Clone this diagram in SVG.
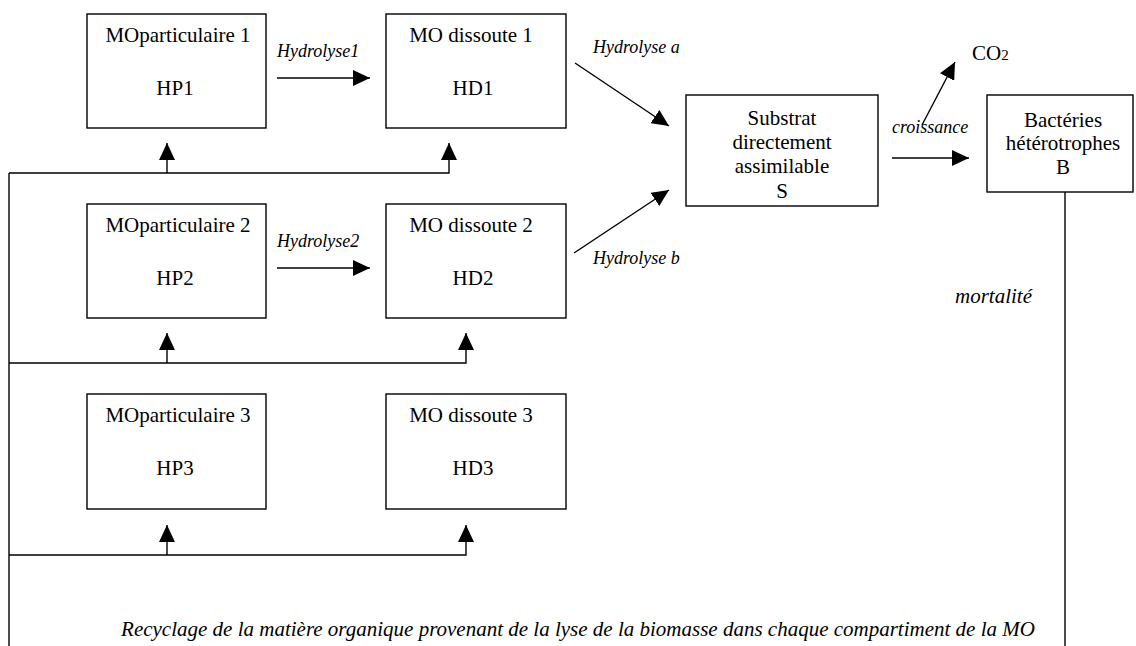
<svg xmlns="http://www.w3.org/2000/svg" width="1136" height="646" viewBox="0 0 1136 646">
<style>
.box{fill:#fff;stroke:#000;stroke-width:1.4}
.t{font-family:"Liberation Serif","Times New Roman",serif;font-size:21px;fill:#000;text-anchor:middle}
.lbl{font-family:"Liberation Serif","Times New Roman",serif;font-size:18px;font-style:italic;fill:#000}
.big{font-size:21px}
.c{fill:none;stroke:#000;stroke-width:1.4}
.a{marker-end:url(#ah)}
</style>
<defs>
<marker id="ah" markerUnits="userSpaceOnUse" markerWidth="18" markerHeight="16" refX="17" refY="8" orient="auto" viewBox="0 0 18 16">
<path d="M0,0 L17,8 L0,16 z" fill="#000"/>
</marker>
</defs>
<rect width="1136" height="646" fill="#fff"/>
<g id="HP1"><rect class="box" x="87" y="14" width="179" height="114"/><text class="t" x="178" y="42">MOparticulaire 1</text><text class="t" x="175" y="95">HP1</text></g>
<g id="HD1"><rect class="box" x="386" y="14" width="180" height="114"/><text class="t" x="471" y="42">MO dissoute 1</text><text class="t" x="473" y="95">HD1</text></g>
<g id="HP2"><rect class="box" x="87" y="204" width="179" height="114"/><text class="t" x="178" y="232">MOparticulaire 2</text><text class="t" x="175" y="285">HP2</text></g>
<g id="HD2"><rect class="box" x="386" y="204" width="180" height="114"/><text class="t" x="471" y="232">MO dissoute 2</text><text class="t" x="473" y="285">HD2</text></g>
<g id="HP3"><rect class="box" x="87" y="394" width="179" height="115"/><text class="t" x="178" y="422">MOparticulaire 3</text><text class="t" x="175" y="475">HP3</text></g>
<g id="HD3"><rect class="box" x="386" y="394" width="180" height="115"/><text class="t" x="471" y="422">MO dissoute 3</text><text class="t" x="473" y="475">HD3</text></g>
<g id="S"><rect class="box" x="686" y="95" width="192" height="111"/><text class="t" x="782" y="125">Substrat</text><text class="t" x="782" y="149">directement</text><text class="t" x="782" y="173">assimilable</text><text class="t" x="782" y="198">S</text></g>
<g id="B"><rect class="box" x="987" y="95" width="146" height="97"/><text class="t" x="1063" y="127">Bactéries</text><text class="t" x="1063" y="150">hétérotrophes</text><text class="t" x="1063" y="174">B</text></g>
<g id="CO2"><text class="t" x="972" y="60" style="text-anchor:start">CO<tspan font-size="15">2</tspan></text></g>
<g id="connectors">
<line class="c a" x1="277" y1="78" x2="370" y2="78"/>
<line class="c a" x1="277" y1="268" x2="370" y2="268"/>
<line class="c a" x1="575" y1="63" x2="669" y2="126"/>
<line class="c a" x1="574" y1="253" x2="669" y2="190"/>
<line class="c a" x1="892" y1="158" x2="969" y2="158"/>
<line class="c a" x1="922" y1="125" x2="955" y2="62"/>
<polyline class="c a" points="9,173 449,173 449,143"/>
<line class="c a" x1="167" y1="173" x2="167" y2="143"/>
<polyline class="c a" points="9,363 466,363 466,333"/>
<line class="c a" x1="167" y1="363" x2="167" y2="333"/>
<polyline class="c a" points="9,555 466,555 466,525"/>
<line class="c a" x1="167" y1="555" x2="167" y2="525"/>
<line class="c" x1="9" y1="173" x2="9" y2="646"/>
<line class="c" x1="1065" y1="192" x2="1065" y2="646"/>
</g>
<g id="labels">
<text class="lbl" x="277" y="57">Hydrolyse1</text>
<text class="lbl" x="277" y="247">Hydrolyse2</text>
<text class="lbl" x="593" y="53">Hydrolyse a</text>
<text class="lbl" x="593" y="264">Hydrolyse b</text>
<text class="lbl" x="892" y="133">croissance</text>
<text class="lbl big" x="955" y="303">mortalité</text>
<text class="lbl big" x="578" y="636" text-anchor="middle">Recyclage de la matière organique provenant de la lyse de la biomasse dans chaque compartiment de la MO</text>
</g>
</svg>
